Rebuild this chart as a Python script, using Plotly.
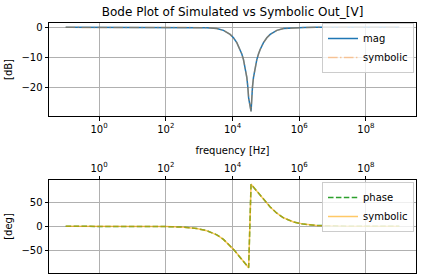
import plotly.graph_objects as go

# frequency samples [Hz]
freq = [0.1, 3.381, 33.81, 106.9, 338.1, 849.2, 1694, 3381, 5358, 8492, 10690,
        13460, 16940, 19010, 21330, 23930, 26850, 28770, 30480,
        35970, 37930, 39720, 42560, 47750, 53580, 60120, 67450, 84920, 106900,
        134600, 213300, 338100, 674500, 1346000, 3381000, 1.069e7, 3.381e7,
        3.381e8, 1e9]

# magnitude [dB]
mag_db = [0.0, 0.0, 0.0, -0.0004, -0.0044, -0.0275, -0.109, -0.424, -1.023,
          -2.361, -3.504, -5.118, -7.405, -8.919, -10.808, -13.27, -16.77,
          -19.86, -23.7,
          -28.13, -22.78, -19.86, -16.77, -13.27, -10.808, -8.919, -7.405,
          -5.118, -3.504, -2.361, -1.023, -0.424, -0.109, -0.0275, -0.0044,
          -0.0004, 0.0, 0.0, 0.0]

# phase [deg]
phase_deg = [0.0, -0.018, -0.18, -0.574, -1.816, -4.56, -9.05, -17.75, -27.27,
             -40.36, -48.08, -56.30, -64.76, -69.01, -73.25, -77.47, -81.66,
             -84.17, -86.25,
             87.75, 85.84, 84.17, 81.66, 77.47, 73.25, 69.01, 64.76, 56.30,
             48.08, 40.36, 27.27, 17.75, 9.05, 4.56, 1.816, 0.574, 0.18,
             0.018, 0.0]

xtick_vals = [1, 1e2, 1e4, 1e6, 1e8]
xtick_text = ["10<sup>0</sup>", "10<sup>2</sup>", "10<sup>4</sup>",
              "10<sup>6</sup>", "10<sup>8</sup>"]

fig = go.Figure()
fig.add_trace(go.Scatter(x=freq, y=mag_db, mode="lines", name="mag",
                         line=dict(color="#1f77b4", width=1.5),
                         xaxis="x", yaxis="y", legend="legend"))
fig.add_trace(go.Scatter(x=freq, y=mag_db, mode="lines", name="symbolic",
                         line=dict(color="rgba(255,127,14,0.4)", width=1.5,
                                   dash="9.6px,2.4px,1.5px,2.4px"),
                         xaxis="x", yaxis="y", legend="legend"))
fig.add_trace(go.Scatter(x=freq, y=phase_deg, mode="lines", name="phase",
                         line=dict(color="#2ca02c", width=1.5, dash="5.5px,2.4px"),
                         xaxis="x2", yaxis="y2", legend="legend2"))
fig.add_trace(go.Scatter(x=freq, y=phase_deg, mode="lines", name="symbolic",
                         line=dict(color="rgba(255,165,0,0.6)", width=1.5),
                         xaxis="x2", yaxis="y2", legend="legend2"))

axcommon = dict(showline=True, linecolor="black", linewidth=1, mirror=True,
                ticks="outside", ticklen=3.5, tickcolor="black",
                showgrid=True, gridcolor="#b0b0b0", gridwidth=0.8,
                zeroline=False, tickfont=dict(size=10, color="black"))

fig.update_layout(
    width=424, height=280,
    margin=dict(l=49, r=8, t=23, b=7),
    paper_bgcolor="white", plot_bgcolor="white",
    font=dict(family="DejaVu Sans", size=10, color="black"),
    title=dict(text="Bode Plot of Simulated vs Symbolic Out_[V]",
               x=0.5486, xanchor="center", y=1 - 12 / 280, yanchor="middle",
               font=dict(size=12, color="black")),
    xaxis=dict(type="log", range=[-1.5, 9.5], tickvals=xtick_vals,
               ticktext=xtick_text, domain=[0, 1], anchor="y", **axcommon),
    yaxis=dict(range=[-29.65, 1.45], tickvals=[0, -10, -20], domain=[0.628, 1],
               anchor="x", title=dict(text="[dB]", standoff=6, font=dict(size=10)),
               **axcommon),
    xaxis2=dict(type="log", range=[-1.5, 9.5], tickvals=xtick_vals,
                ticktext=xtick_text, side="top", domain=[0, 1], anchor="y2",
                title=dict(text="frequency [Hz]", standoff=4, font=dict(size=10)),
                **axcommon),
    yaxis2=dict(range=[-97.3, 96.5], tickvals=[-50, 0, 50], domain=[0, 0.372],
                anchor="x2", title=dict(text="[deg]", standoff=6, font=dict(size=10)),
                **axcommon),
    legend=dict(x=0.9946, xanchor="right", y=1.0, yanchor="top",
                bgcolor="rgba(255,255,255,0.8)", bordercolor="#cccccc",
                borderwidth=1, font=dict(size=10), tracegroupgap=0, itemwidth=30),
    legend2=dict(x=0.9946, xanchor="right", y=0.364, yanchor="top",
                 bgcolor="rgba(255,255,255,0.8)", bordercolor="#cccccc",
                 borderwidth=1, font=dict(size=10), tracegroupgap=0, itemwidth=30),
    showlegend=True,
)

fig.write_html("out.html")
